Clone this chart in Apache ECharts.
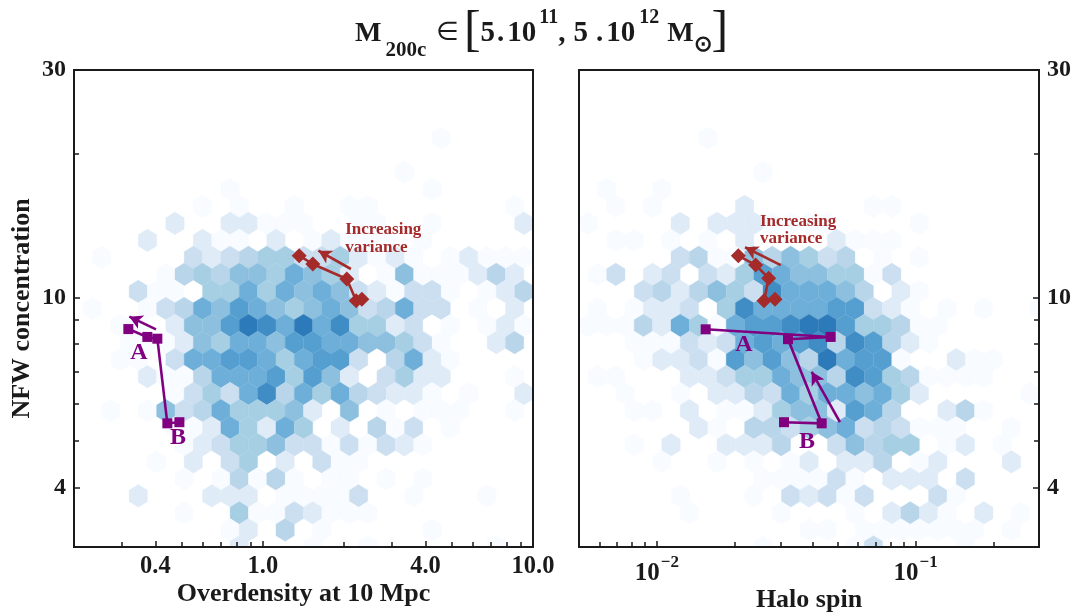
<!DOCTYPE html>
<html><head><meta charset="utf-8"><style>html,body{margin:0;padding:0;background:#fff}#c{width:1075px;height:616px}</style>
<script src="https://cdn.jsdelivr.net/npm/echarts@6/dist/echarts.min.js"></script></head><body><div id="c"></div>
<script>
// Hexbin layout (in axis units): 25 columns, 28 row steps on log axes
const xRangeL=[0.2,10], xRangeR=[0.005,0.3], yRange=[3,30];
const nCols=25, nRowSteps=28;
const palette=['#ffffff','#f8fbff','#dfebf7','#cbdff1','#b9d5ea','#a6cfe4','#8cc0de','#6dafd8','#559fd0','#408dc5','#2c7ab9'];
// rows: [rowIndex, [col, level, col, level, ...]]
const hexLeft=[
[24,[20,1]],[22,[18,1]],[21,[8,1,19,1]],
[20,[7,1,9,1,12,1,15,1,16,1,24,1]],
[19,[5,2,8,2,9,2,10,1,11,1,12,1,15,1,16,1,19,1,24,2]],
[18,[4,2,7,2,8,1,9,1,11,2,13,1,14,2,15,1,16,1,17,1,19,1]],
[17,[1,1,6,3,7,2,8,3,9,4,10,5,11,5,12,3,13,3,14,5,15,2,16,1,17,2,18,1,20,1,21,2,22,1,23,1,24,1]],
[16,[5,1,6,4,7,5,8,4,9,6,10,6,11,5,12,7,13,6,14,5,15,2,17,1,18,6,19,1,20,1,21,1,22,2,23,4,24,2]],
[15,[3,3,4,1,5,1,7,5,8,5,9,7,10,5,11,7,12,6,13,7,14,6,15,3,16,2,17,1,18,3,19,3,20,1,22,1,23,2,24,4]],
[14,[1,1,4,1,5,3,6,4,7,7,8,6,9,8,10,7,11,6,12,5,13,6,14,7,15,6,16,3,17,4,18,7,19,3,20,3,22,1,24,2]],
[13,[2,1,3,1,5,2,6,6,7,6,8,8,9,10,10,9,11,7,12,10,13,7,14,9,15,5,16,5,17,2,18,3,20,1,22,1,23,2,24,1]],
[12,[3,1,4,1,5,1,6,2,7,6,8,5,9,7,10,7,11,6,12,8,13,8,14,7,15,7,16,6,17,6,18,5,19,3,20,1,23,2,24,4]],
[11,[2,1,3,1,5,3,6,7,7,7,8,8,9,8,10,7,11,5,12,7,13,8,14,8,15,3,17,4,18,7,19,2,20,1]],
[10,[4,2,5,1,6,1,7,4,8,7,9,7,10,7,11,8,12,5,13,8,14,6,15,2,17,3,18,5,19,2,20,2,24,1]],
[9,[5,1,6,3,7,5,8,3,9,7,10,9,11,4,12,7,13,5,14,7,15,4,16,3,17,2,18,2,19,1,21,1,24,2]],
[8,[2,1,4,1,5,6,6,3,7,4,8,7,9,5,10,5,11,5,12,6,13,2,15,6,17,1,19,1,20,1,21,1,24,1]],
[7,[5,1,6,1,7,2,8,7,9,5,10,2,11,7,12,5,14,2,16,4,17,1,18,3,20,1]],
[6,[6,1,7,2,8,3,9,5,10,5,11,6,12,3,13,3,14,1,15,3,16,1,17,3,18,2,19,1]],
[5,[4,1,6,2,8,3,9,5,11,2,13,3,14,1,15,1]],
[4,[6,1,8,1,9,4,10,1,11,4,12,1,14,1,15,1,17,1,19,1]],
[3,[3,2,7,2,8,2,9,2,11,1,12,1,13,1,14,1,15,3,18,1,22,1]],
[2,[6,1,9,5,10,1,11,1,12,3,13,2,14,1,15,1,16,1]],
[1,[8,1,9,2,11,4,13,1,19,1]],
[0,[9,2,13,1,16,1,23,1]]
];
const hexRight=[
[24,[7,1]],[22,[10,1]],[21,[1,1,4,1]],
[20,[2,1,4,1,9,2,16,1,17,1]],
[19,[0,1,5,2,7,2,8,2,9,2,10,1,11,1,12,1,13,1,18,1]],
[18,[2,1,3,1,5,1,7,1,9,2,14,2,15,1,16,1,17,1]],
[17,[5,3,6,4,7,1,8,1,9,6,10,4,11,6,12,5,13,3,14,4,16,1,18,1]],
[16,[1,1,2,3,4,2,5,3,7,3,8,2,9,5,10,8,11,7,12,6,13,6,14,5,15,5,16,1,17,3]],
[15,[3,3,4,4,5,2,6,4,7,6,8,5,9,3,10,9,11,7,12,7,13,7,14,6,15,4,17,2,18,1]],
[14,[1,1,3,1,4,2,5,2,6,3,8,5,9,9,10,7,11,7,12,7,13,7,14,8,15,8,16,3,17,2,18,1,20,1,22,1,25,1]],
[13,[0,1,1,1,2,1,3,4,4,2,5,7,6,5,7,1,8,7,9,8,10,8,11,9,12,10,13,10,14,8,15,5,16,5,17,4,18,1,19,1]],
[12,[3,1,4,1,5,1,6,3,7,2,8,3,9,7,10,8,11,7,12,8,13,9,14,4,15,9,16,8,17,4,18,2,19,1]],
[11,[3,1,4,2,5,2,6,3,7,1,8,8,9,6,10,8,11,6,12,4,13,10,14,7,15,8,16,8,17,1,20,2,21,1,22,1]],
[10,[1,1,2,1,6,2,7,2,8,3,9,5,10,5,11,7,12,6,13,6,14,4,15,9,16,8,17,5,18,4,19,1,20,1,21,1,22,1]],
[9,[2,1,5,1,7,2,8,2,9,4,10,3,11,7,12,5,13,7,14,7,15,6,16,7,17,5,18,2,24,1]],
[8,[3,1,4,1,6,2,8,1,9,1,10,2,11,5,12,6,13,6,14,2,15,8,16,7,17,4,20,2,21,4,22,1]],
[7,[6,2,7,1,9,4,10,4,11,3,12,5,13,6,14,7,15,3,16,4,17,3,18,1,19,1,20,1,23,1]],
[6,[3,1,5,2,8,2,9,2,10,2,11,4,14,3,15,6,16,4,17,5,18,5,20,1,21,2,23,1]],
[5,[4,1,7,1,9,1,11,1,12,2,14,2,15,2,16,4,18,1,19,2,23,2]],
[4,[10,1,11,1,12,1,13,1,14,3,15,1,17,2,18,2,19,2,21,3]],
[3,[5,1,9,1,11,3,12,2,13,3,14,1,15,3,19,3,20,1]],
[2,[6,1,11,1,15,1,17,2,18,4,19,2,20,1,22,2,24,1]],
[1,[12,1,13,1,15,1,16,1,17,1,18,1,19,1,20,1,21,1,23,1]],
[0,[10,1,15,1,16,3,21,1]]
];
const purpleL=[[0.3178,8.59],[0.3737,8.27],[0.4069,8.20],[0.4432,5.45],[0.491,5.48]];
const redL=[[1.363,12.24],[1.531,11.76],[2.046,10.94],[2.216,9.85],[2.326,9.92]];
const purpleR=[[0.01544,8.58],[0.04697,8.27],[0.03213,8.18],[0.04336,5.45],[0.0310,5.48]];
const redR=[[0.02064,12.24],[0.0241,11.70],[0.02706,10.98],[0.02595,9.85],[0.02862,9.92]];
const arrowPurpleL=[[0.4024,8.58],[0.3206,9.12]], arrowRedL=[[2.118,11.48],[1.606,12.54]];
const arrowPurpleR=[[0.05102,5.48],[0.03968,6.99]], arrowRedR=[[0.03011,11.70],[0.02192,12.75]];
const yMajor=[4,10,30], yMinor=[5,6,7,8,9,20];
const xMajorL=[0.4,1,4,10], xMinorL=[0.3,0.5,0.6,0.7,0.8,0.9,2,3,5,6,7,8,9];
const xMajorR=[0.01,0.1], xMinorR=[0.006,0.007,0.008,0.009,0.02,0.03,0.04,0.05,0.06,0.07,0.08,0.09,0.2];
const SERIF='"Liberation Serif","Times New Roman",serif';
const ink='#1a1a1a', PURPLE='#800080', RED='#a52a2a';

function lg(v){return Math.log10(v);}
function hexCells(rows,xr){
  const lx0=lg(xr[0]), dx=(lg(xr[1])-lx0)/nCols, ly0=lg(yRange[0]), dy=(lg(yRange[1])-ly0)/nRowSteps, out=[];
  rows.forEach(([r,cells])=>{
    for(let i=0;i<cells.length;i+=2){
      const lxc=lx0+(cells[i]+(r%2?0.5:0))*dx, lyc=ly0+r*dy;
      out.push([lxc,lyc,cells[i+1],dx,dy]);
    }
  });
  return out;
}
function renderHex(params,api){
  const lx=api.value(0), ly=api.value(1), dx=api.value(3), dy=api.value(4);
  const off=[[.5,-1/3],[.5,1/3],[0,2/3],[-.5,1/3],[-.5,-1/3],[0,-2/3]];
  const pts=off.map(o=>api.coord([lx+o[0]*dx,ly+o[1]*dy]));
  return {type:'polygon',shape:{points:pts},style:{fill:palette[api.value(2)],stroke:palette[api.value(2)],lineWidth:0.3}};
}
function xAxisOf(idx,xr,ticks,major,labels,fmt,pos){
  return {type:'value',gridIndex:idx,position:pos,min:lg(xr[0]),max:lg(xr[1]),z:5,
    axisLine:{show:true,onZero:false,lineStyle:{color:ink,width:2}},
    splitLine:{show:false},minorTick:{show:false},
    axisTick:{show:!!ticks.length,inside:true,length:major?6:5,lineStyle:{color:ink,width:1.5},customValues:ticks.map(lg)},
    axisLabel:labels?{show:true,customValues:labels.map(lg),formatter:fmt,margin:7,color:ink,fontFamily:SERIF,fontWeight:'bold',fontSize:24.5,hideOverlap:false,showMinLabel:true,showMaxLabel:true,
      rich:{b:{fontFamily:SERIF,fontWeight:'bold',fontSize:25,color:ink,padding:[4,0,0,0]},s:{fontFamily:SERIF,fontWeight:'bold',fontSize:17,color:ink,padding:[0,0,18,1]}}}:{show:false}};
}
function yAxisOf(idx,ticks,major,labels,pos){
  return {type:'value',gridIndex:idx,position:pos,min:lg(yRange[0]),max:lg(yRange[1]),z:5,
    axisLine:{show:true,onZero:false,lineStyle:{color:ink,width:2}},
    splitLine:{show:false},
    axisTick:{show:!!ticks.length,inside:true,length:major?6:5,lineStyle:{color:ink,width:1.5},customValues:ticks.map(lg)},
    axisLabel:labels?{show:true,customValues:labels.map(lg),formatter:v=>String(Math.round(Math.pow(10,v))),margin:8,color:ink,fontFamily:SERIF,fontWeight:'bold',fontSize:24,hideOverlap:false,showMinLabel:true,showMaxLabel:true}:{show:false}};
}
const fmtL=v=>{const n=Math.pow(10,v);return n.toFixed(1);};
const fmtR=v=>{const e=Math.round(v);return '{b|10}{s|\u2212'+Math.abs(e)+'}';};
function logP(a){return a.map(p=>[lg(p[0]),lg(p[1])]);}
function markerSeries(name,xi,yi,pts,color,sym,size,arrow){
  const a=logP(arrow);
  return {name,type:'line',xAxisIndex:xi,yAxisIndex:yi,data:logP(pts),symbol:sym,symbolSize:size,z:6,clip:false,animation:false,
    lineStyle:{color,width:2.6},itemStyle:{color},
    markLine:{silent:true,animation:false,z:6,symbol:['none','arrow'],symbolSize:[11,13],label:{show:false},lineStyle:{color,width:2.6,type:'solid'},
      data:[[{coord:a[0]},{coord:a[1]}]]}};
}
function textSeries(xi,yi,items){
  return {type:'scatter',xAxisIndex:xi,yAxisIndex:yi,symbolSize:0.01,z:7,animation:false,silent:true,itemStyle:{opacity:1},
    data:items.map(t=>({value:[lg(t.x),lg(t.y)],label:{show:true,opacity:1,position:t.pos||'inside',distance:0,formatter:t.s,color:t.c,fontFamily:SERIF,fontWeight:'bold',fontSize:t.fs,lineHeight:t.lh,align:t.al||'center',verticalAlign:'middle'}}))};
}
const nameStyle=fs=>({fontFamily:SERIF,fontWeight:'bold',fontSize:fs,color:ink});
const chart=echarts.init(document.getElementById('c'),null,{renderer:'canvas'});
chart.setOption({
  animation:false,backgroundColor:'#fff',
  grid:[{left:74,top:70,width:459,height:477,outerBoundsMode:'none'},{left:579,top:70,width:460,height:477,outerBoundsMode:'none'}],
  xAxis:[
    Object.assign(xAxisOf(0,xRangeL,xMajorL,true,xMajorL,fmtL,'bottom'),{name:'Overdensity at 10 Mpc',nameLocation:'middle',nameMoveOverlap:false,nameGap:34,nameTextStyle:nameStyle(26)}),
    xAxisOf(0,xRangeL,xMinorL,false,null,null,'bottom'),
    xAxisOf(0,xRangeL,[],false,null,null,'top'),
    Object.assign(xAxisOf(1,xRangeR,xMajorR,true,xMajorR,fmtR,'bottom'),{name:'Halo spin',nameLocation:'middle',nameMoveOverlap:false,nameGap:40,nameTextStyle:nameStyle(26)}),
    xAxisOf(1,xRangeR,xMinorR,false,null,null,'bottom'),
    xAxisOf(1,xRangeR,[],false,null,null,'top')
  ],
  yAxis:[
    Object.assign(yAxisOf(0,yMajor,true,yMajor,'left'),{name:'NFW concentration',nameLocation:'middle',nameMoveOverlap:false,nameGap:39,nameRotate:90,nameTextStyle:nameStyle(26)}),
    yAxisOf(0,yMinor,false,null,'left'),
    yAxisOf(0,[],false,null,'right'),
    yAxisOf(1,yMajor,true,yMajor,'right'),
    yAxisOf(1,yMinor,false,null,'right'),
    yAxisOf(1,[],false,null,'left')
  ],
  series:[
    {type:'custom',xAxisIndex:0,yAxisIndex:0,clip:true,z:1,silent:true,renderItem:renderHex,data:hexCells(hexLeft,xRangeL),encode:{x:0,y:1}},
    {type:'custom',xAxisIndex:3,yAxisIndex:3,clip:true,z:1,silent:true,renderItem:renderHex,data:hexCells(hexRight,xRangeR),encode:{x:0,y:1}},
    markerSeries('purple left',0,0,purpleL,PURPLE,'rect',10,arrowPurpleL),
    markerSeries('red left',0,0,redL,RED,'diamond',15,arrowRedL),
    markerSeries('purple right',3,3,purpleR,PURPLE,'rect',10,arrowPurpleR),
    markerSeries('red right',3,3,redR,RED,'diamond',15,arrowRedR),
    textSeries(0,0,[{x:0.348,y:7.65,s:'A',c:PURPLE,fs:24},{x:0.4856,y:5.08,s:'B',c:PURPLE,fs:24},{x:2.017,y:13.3,s:'Increasing\nvariance',c:RED,fs:17,lh:17.5,al:'left',pos:'right'}]),
    textSeries(3,3,[{x:0.02172,y:7.96,s:'A',c:PURPLE,fs:24},{x:0.03804,y:4.98,s:'B',c:PURPLE,fs:24},{x:0.02504,y:13.85,s:'Increasing\nvariance',c:RED,fs:17,lh:17.5,al:'left',pos:'right'}])
  ],
  title:{show:true,left:350,top:1,text:'{mm|M}{sub|200c}{e|\u2208}{br|[}{m|5}{d1|.}{m|10}{sup1|11}{m|,}{m2|5}{d2|.}{m|10}{sup2|12}{mm2|M}{od|\u2299}{br|]}',
    textStyle:{rich:{
      m:{fontFamily:SERIF,fontWeight:'bold',fontSize:29,color:ink},
      m2:{fontFamily:SERIF,fontWeight:'bold',fontSize:29,color:ink,padding:[0,0,0,8]},
      mm:{fontFamily:SERIF,fontWeight:'bold',fontSize:28,color:ink},
      mm2:{fontFamily:SERIF,fontWeight:'bold',fontSize:28,color:ink,padding:[0,0,0,8]},
      d1:{fontFamily:SERIF,fontWeight:'bold',fontSize:29,color:ink,padding:[0,3,0,2]},
      d2:{fontFamily:SERIF,fontWeight:'bold',fontSize:29,color:ink,padding:[0,3,0,8]},
      e:{fontFamily:'"DejaVu Sans",serif',fontWeight:'normal',fontSize:26,color:ink,padding:[0,5,0,10]},
      br:{fontFamily:SERIF,fontWeight:'normal',fontSize:50,color:ink,padding:[0,0,3,0]},
      sub:{fontFamily:SERIF,fontWeight:'bold',fontSize:21,color:ink,padding:[34,0,0,4]},
      od:{fontFamily:SERIF,fontWeight:'bold',fontSize:22,color:ink,padding:[24,0,0,0]},
      sup1:{fontFamily:SERIF,fontWeight:'bold',fontSize:20,color:ink,padding:[0,0,32,3]},
      sup2:{fontFamily:SERIF,fontWeight:'bold',fontSize:20,color:ink,padding:[0,0,32,4]}
    }}}
});
</script></body></html>
